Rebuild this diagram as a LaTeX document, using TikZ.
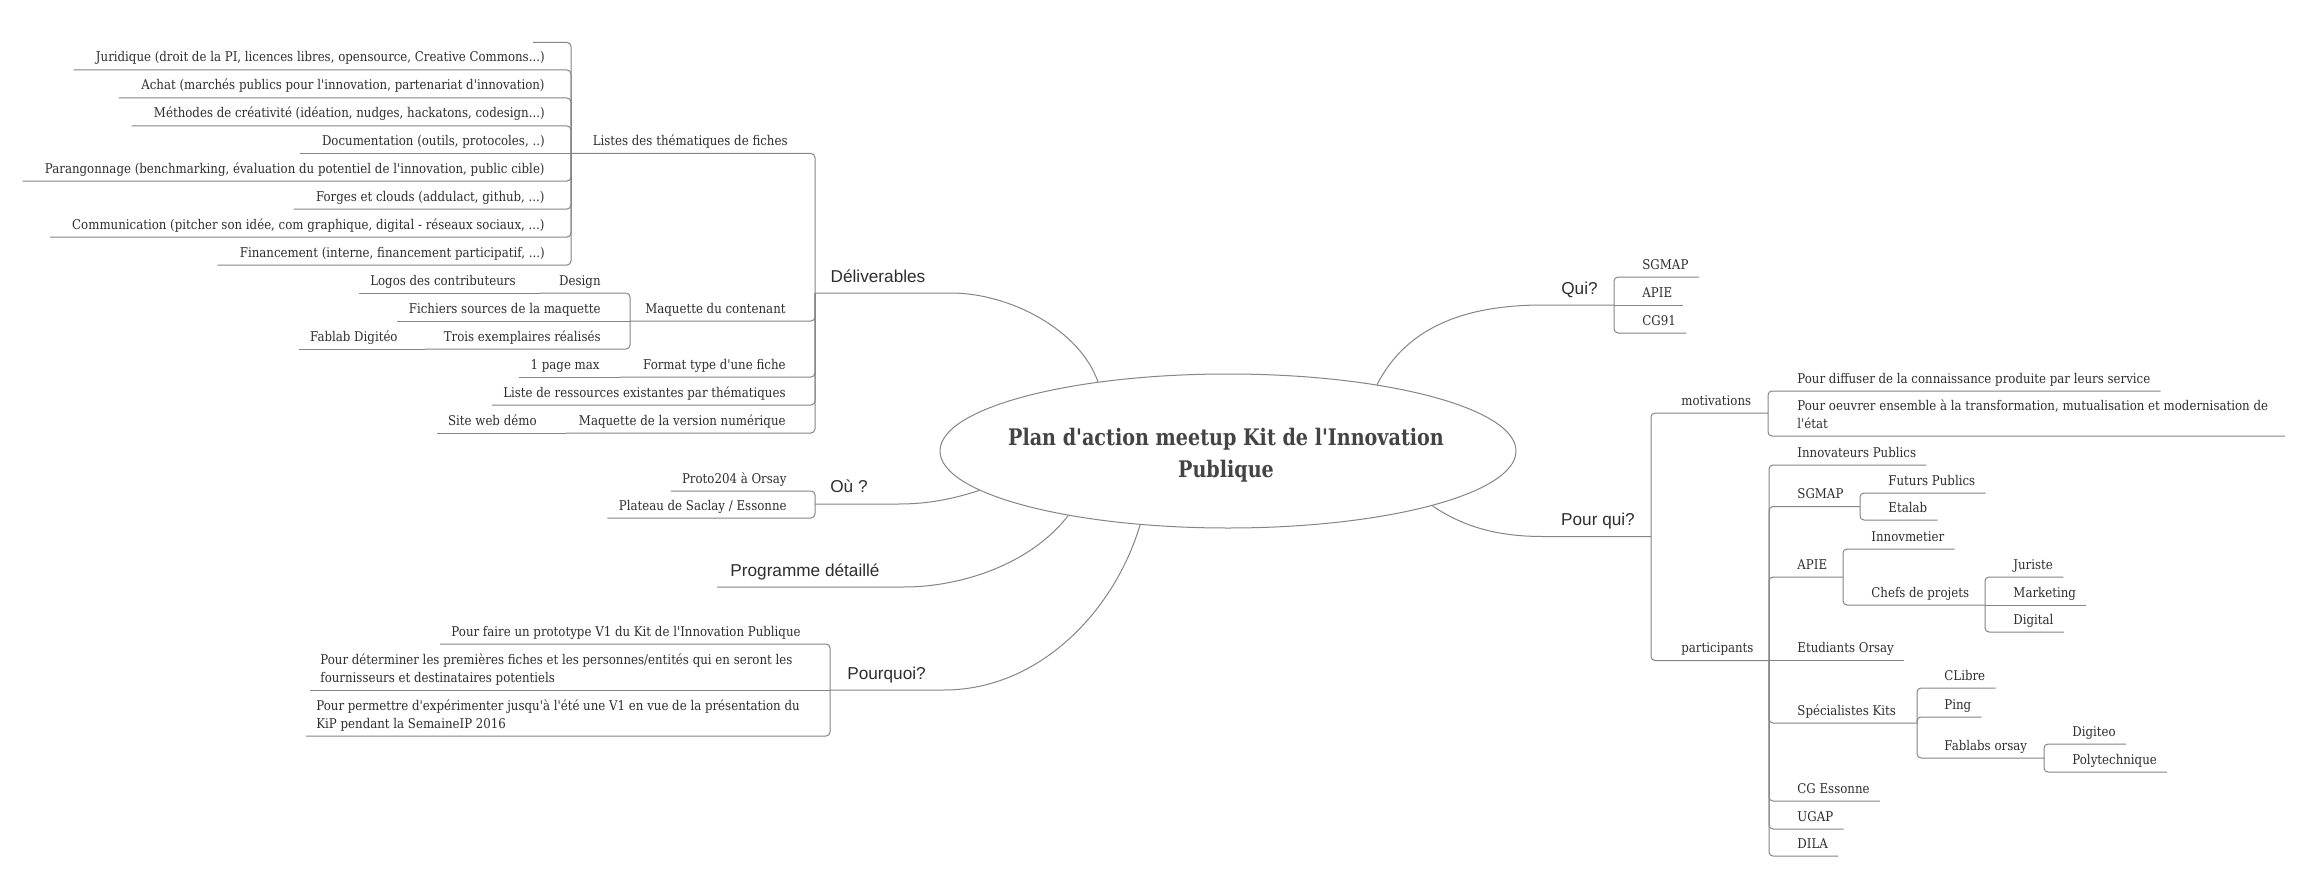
\documentclass[tikz,border=0pt]{standalone}
\usepackage{fontspec}
\usetikzlibrary{shapes.geometric,calc}
\newfontfamily\leaffont{DejaVu Serif}[FakeStretch=0.88]
\newfontfamily\titlefont{DejaVu Serif}[FakeStretch=0.84]
\newfontfamily\branchfont{Liberation Sans}
\definecolor{ln}{HTML}{858585}
\definecolor{txt}{HTML}{2E2E2E}
\definecolor{ttl}{HTML}{444444}
\tikzset{
  leaf/.style={inner sep=0pt, text=txt, font=\leaffont\fontsize{6.7}{9}\selectfont},
  branch/.style={inner sep=0pt, text=txt, font=\branchfont\fontsize{8.6}{10}\selectfont},
  title/.style={inner sep=0pt, text=ttl, align=center, font=\titlefont\bfseries\fontsize{11.4}{16}\selectfont},
  conn/.style={draw=ln, line width=0.5pt, rounded corners=2pt},
}
\def\lg{11}
% left-side leaf: name, parent junction, underline y, text right x, text
\newcommand\leafL[5]{%
  \node[leaf,anchor=base east] (#1) at (#4,#3-8) {#5};
  \coordinate (#1-e) at ($(#1.base west)+(-\lg,8)$);
  \draw[conn] (#2) |- (#1-e);}
\newcommand\leafLs[5]{%
  \node[leaf,anchor=base east] (#1) at (#4,#3-8) {#5};
  \coordinate (#1-e) at ($(#1.base west)+(-\lg,8)$);
  \draw[conn] (#2) -- (#1-e);}
% left-side parent: name, parent junction, y, far x, text right x, text
\newcommand\parL[6]{%
  \node[leaf,anchor=base east] (#1) at (#5,#3-8) {#6};
  \coordinate (#1-e) at (#4,#3);
  \draw[conn] (#2) |- (#1-e);}
% right-side leaf: name, parent, y, text left x, text
\newcommand\leafR[5]{%
  \node[leaf,anchor=base west] (#1) at (#4,#3-8) {#5};
  \coordinate (#1-e) at ($(#1.base east)+(10,8)$);
  \draw[conn] (#2) |- (#1-e);}
\newcommand\leafRs[5]{%
  \node[leaf,anchor=base west] (#1) at (#4,#3-8) {#5};
  \coordinate (#1-e) at ($(#1.base east)+(10,8)$);
  \draw[conn] (#2) -- (#1-e);}
\newcommand\parR[6]{%
  \node[leaf,anchor=base west] (#1) at (#5,#3-8) {#6};
  \coordinate (#1-e) at (#4,#3);
  \draw[conn] (#2) |- (#1-e);}
\begin{document}
\begin{tikzpicture}[x=0.5pt,y=-0.5pt]
\path[use as bounding box, fill=white] (0,0) rectangle (2302,872);

% central topic
\node[draw=ln, line width=0.5pt, ellipse, minimum width=288pt, minimum height=77pt, inner sep=0pt] (root) at (1228,451) {};
\node[title] (titre) at (1226,455) {Plan d'action meetup Kit de l'Innovation\\Publique};

% ---------- main branches ----------
\coordinate (deliv-k) at (947,293);  \coordinate (deliv-e) at (815,293);
\node[branch,anchor=base] (deliv) at (878,282) {Déliverables};
\draw[conn] (root.152) .. controls (1080,330) and (1010,293) .. (deliv-k) -- (deliv-e);

\coordinate (ou-k) at (895,504);  \coordinate (ou-e) at (815,504);
\node[branch,anchor=base] (ou) at (849,492) {Où ?};
\draw[conn] (root.189) .. controls (950,500) and (925,504) .. (ou-k) -- (ou-e);

\coordinate (prog-k) at (900,587);  \coordinate (prog-e) at (717,587);
\node[branch,anchor=base] (prog) at (805,576) {Programme détaillé};
\draw[conn] (root.202) .. controls (1030,565) and (960,587) .. (prog-k) -- (prog-e);

\coordinate (pq-k) at (940,690);  \coordinate (pq-e) at (830,690);
\node[branch,anchor=base] (pq) at (886.5,679) {Pourquoi?};
\draw[conn] (root.220) .. controls (1115,610) and (1040,690) .. (pq-k) -- (pq-e);

\coordinate (qui-k) at (1547,305);  \coordinate (qui-e) at (1614,305);
\node[branch,anchor=base] (qui) at (1579.5,294) {Qui?};
\draw[conn] (root.24) .. controls (1405,330) and (1460,305) .. (qui-k) -- (qui-e);

\coordinate (pqui-k) at (1547,536.5);  \coordinate (pqui-e) at (1651,536.5);
\node[branch,anchor=base] (pqui) at (1598,525) {Pour qui?};
\draw[conn] (root.-15) .. controls (1465,528) and (1500,536.5) .. (pqui-k) -- (pqui-e);

% ---------- Déliverables ----------
\parL{listes}{deliv-e}{153.5}{571}{788}{Listes des thématiques de fiches}
\def\lg{22}
\coordinate (vide-e) at (533,42.5);
\draw[conn] (listes-e) |- (vide-e);
\leafL{jur}{listes-e}{70}{545}{Juridique (droit de la PI, licences libres, opensource, Creative Commons...)}
\leafL{achat}{listes-e}{98}{545}{Achat (marchés publics pour l'innovation, partenariat d'innovation)}
\leafL{meth}{listes-e}{126}{545}{Méthodes de créativité (idéation, nudges, hackatons, codesign...)}
\leafLs{doc}{listes-e}{153.5}{545}{Documentation (outils, protocoles, ..)}
\leafL{parang}{listes-e}{181}{545}{Parangonnage (benchmarking, évaluation du potentiel de l'innovation, public cible)}
\leafL{forges}{listes-e}{209}{545}{Forges et clouds (addulact, github, ...)}
\leafL{comm}{listes-e}{237}{545}{Communication (pitcher son idée, com graphique, digital - réseaux sociaux, ...)}
\leafL{fin}{listes-e}{265}{545}{Financement (interne, financement participatif, ...)}
\def\lg{11}

\parL{maq}{deliv-e}{321}{630}{786}{Maquette du contenant}
\parL{design}{maq-e}{293}{540}{601}{Design}
\leafLs{logos}{design-e}{293}{516}{Logos des contributeurs}
\leafLs{fich}{maq-e}{321}{601}{Fichiers sources de la maquette}
\parL{trois}{maq-e}{349}{425}{601}{Trois exemplaires réalisés}
\leafLs{fablab}{trois-e}{349}{398}{Fablab Digitéo}

\parL{format}{deliv-e}{377}{620}{786}{Format type d'une fiche}
\leafLs{page}{format-e}{377}{600}{1 page max}
\leafL{liste}{deliv-e}{405}{786}{Liste de ressources existantes par thématiques}
\parL{maqv}{deliv-e}{433}{566}{786}{Maquette de la version numérique}
\leafLs{site}{maqv-e}{433}{537}{Site web démo}

% ---------- Où ? ----------
\leafL{proto}{ou-e}{491}{787}{Proto204 à Orsay}
\leafL{plateau}{ou-e}{518}{787}{Plateau de Saclay / Essonne}

% ---------- Pourquoi? ----------
\leafL{faire}{pq-e}{644}{801}{Pour faire un prototype V1 du Kit de l'Innovation Publique}
\node[leaf,anchor=base west,align=left] (det) at (320,682) {Pour déterminer les premières fiches et les personnes/entités qui en seront les\\fournisseurs et destinataires potentiels};
\coordinate (det-e) at (310,690);
\draw[conn] (pq-e) -- (det-e);
\node[leaf,anchor=base west,align=left] (perm) at (316,728) {Pour permettre d'expérimenter jusqu'à l'été une V1 en vue de la présentation du\\KiP pendant la SemaineIP 2016};
\coordinate (perm-e) at (306,736);
\draw[conn] (pq-e) |- (perm-e);

% ---------- Qui? ----------
\leafR{sgmapa}{qui-e}{277}{1642}{SGMAP}
\leafRs{apiea}{qui-e}{305}{1642}{APIE}
\leafR{cg}{qui-e}{333}{1642}{CG91}

% ---------- Pour qui? ----------
\parR{motiv}{pqui-e}{413}{1768}{1681}{motivations}
\leafR{diff}{motiv-e}{391}{1797}{Pour diffuser de la connaissance produite par leurs service}
\node[leaf,anchor=base west,align=left] (oeuv) at (1797,428) {Pour oeuvrer ensemble à la transformation, mutualisation et modernisation de\\l'état};
\coordinate (oeuv-e) at (2285,436);
\draw[conn] (motiv-e) |- (oeuv-e);

\parR{part}{pqui-e}{660.5}{1769}{1681}{participants}
\leafR{innov}{part-e}{465}{1797}{Innovateurs Publics}
\parR{sgmapb}{part-e}{506.5}{1860}{1797}{SGMAP}
\leafR{futurs}{sgmapb-e}{493}{1888}{Futurs Publics}
\leafR{etalab}{sgmapb-e}{520}{1888}{Etalab}
\parR{apieb}{part-e}{577}{1843}{1797}{APIE}
\leafR{innovm}{apieb-e}{549}{1871}{Innovmetier}
\parR{chefs}{apieb-e}{605}{1985}{1871}{Chefs de projets}
\leafR{juriste}{chefs-e}{577}{2013}{Juriste}
\leafRs{mark}{chefs-e}{605}{2013}{Marketing}
\leafR{digital}{chefs-e}{632}{2013}{Digital}
\leafRs{etud}{part-e}{660.5}{1797}{Etudiants Orsay}
\parR{spec}{part-e}{723}{1917}{1797}{Spécialistes Kits}
\leafR{clibre}{spec-e}{688}{1944}{CLibre}
\leafR{ping}{spec-e}{717}{1944}{Ping}
\parR{fablabs}{spec-e}{758}{2044}{1944}{Fablabs orsay}
\leafR{digiteo}{fablabs-e}{744}{2072}{Digiteo}
\leafR{poly}{fablabs-e}{772}{2072}{Polytechnique}
\leafR{cge}{part-e}{801}{1797}{CG Essonne}
\leafR{ugap}{part-e}{829}{1797}{UGAP}
\leafR{dila}{part-e}{856}{1797}{DILA}
\end{tikzpicture}
\end{document}
